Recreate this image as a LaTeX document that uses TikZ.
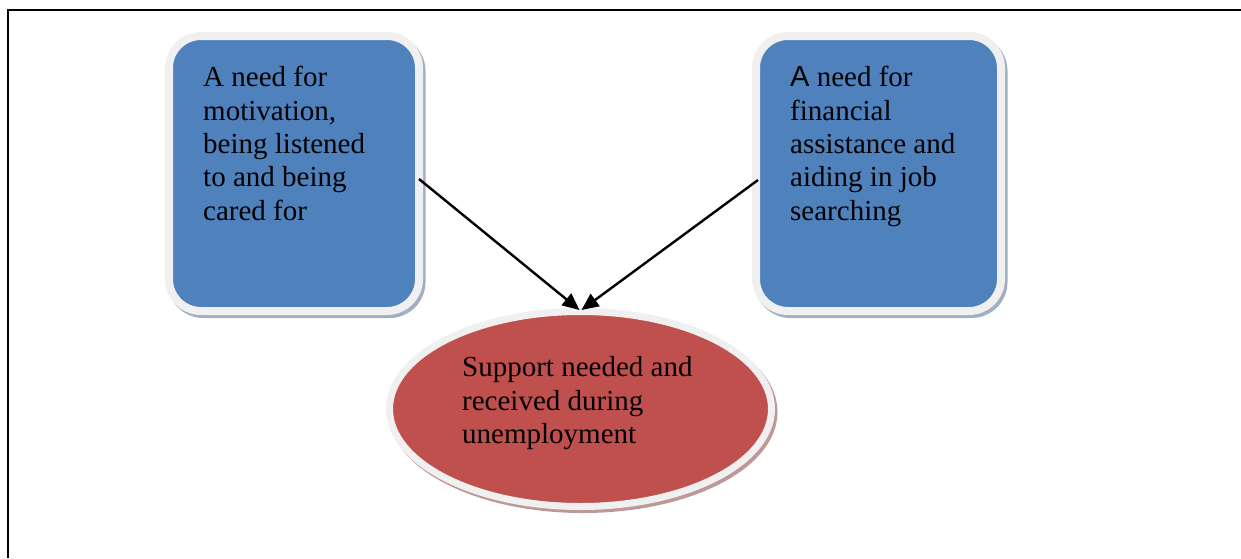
\documentclass[tikz,border=0pt]{standalone}
\usepackage{fontspec}
\setmainfont{Liberation Serif}
\newfontfamily\arialfont{Liberation Sans}
\usetikzlibrary{arrows.meta,calc,shapes.geometric}
\definecolor{boxblue}{HTML}{4F81BD}
\definecolor{ellred}{HTML}{C0504D}
\definecolor{rimgray}{HTML}{F0F0F0}
\definecolor{boxshadow}{HTML}{A2AEC2}
\definecolor{ellshadow}{HTML}{BE9898}
\tikzset{
  needbox/.style={rectangle, rounded corners=32pt, fill=boxblue, draw=rimgray, line width=8pt, outer sep=0pt, inner sep=0pt, minimum width=#1, minimum height=275pt},
  boxshade/.style={rectangle, rounded corners=32pt, fill=boxshadow, draw=boxshadow, line width=8pt, outer sep=0pt, inner sep=0pt, minimum width=#1, minimum height=275pt},
  supportell/.style={ellipse, fill=ellred, draw=rimgray, line width=7pt, outer sep=0pt, inner sep=0pt, minimum width=382pt, minimum height=195pt},
  ellshade/.style={ellipse, fill=ellshadow, draw=ellshadow, line width=7pt, outer sep=0pt, inner sep=0pt, minimum width=382pt, minimum height=195pt},
  label/.style={anchor=base west, align=left, inner sep=0pt, font=\fontsize{29}{33.4}\selectfont},
  link/.style={line width=2.4pt, -{Triangle[length=17pt,width=15pt]}},
  frame/.style={line width=2.5pt}
}
\begin{document}
\begin{tikzpicture}[x=1pt,y=-1pt]
\useasboundingbox (0,0) rectangle (1241,558);
% frame
\coordinate (ftl) at (8,10);
\coordinate (ftr) at (1241,10);
\coordinate (fbl) at (8,558);
\draw[frame] (fbl) -- (ftl) -- (ftr);
% shadows
\node[boxshade=250pt] (lshade) at (296.5,176.5) {};
\node[boxshade=245pt] (rshade) at (881,176.5) {};
\node[ellshade] (eshade) at (583,412) {};
% boxes
\node[needbox=250pt] (lbox) at (294,173.5) {};
\node[needbox=245pt] (rbox) at (878.5,173.5) {};
\node[supportell] (ell) at (580.5,409) {};
% texts (base anchor = last line)
\node[label] (ltext) at (203,220.3) {A need for\\motivation,\\being listened\\to and being\\cared for};
\node[label] (rtext) at (790,220.3) {{\arialfont A} need for\\financial\\assistance and\\aiding in job\\searching};
\node[label] (etext) at (462,443.5) {Support needed and\\received during\\unemployment};
% arrows
\draw[link] ([yshift=-5.5pt]lbox.east) -- ([xshift=-1pt,yshift=1.5pt]ell.north);
\draw[link] ([xshift=2pt,yshift=-6.5pt]rbox.west) -- ([xshift=1pt,yshift=1.5pt]ell.north);
\end{tikzpicture}
\end{document}
